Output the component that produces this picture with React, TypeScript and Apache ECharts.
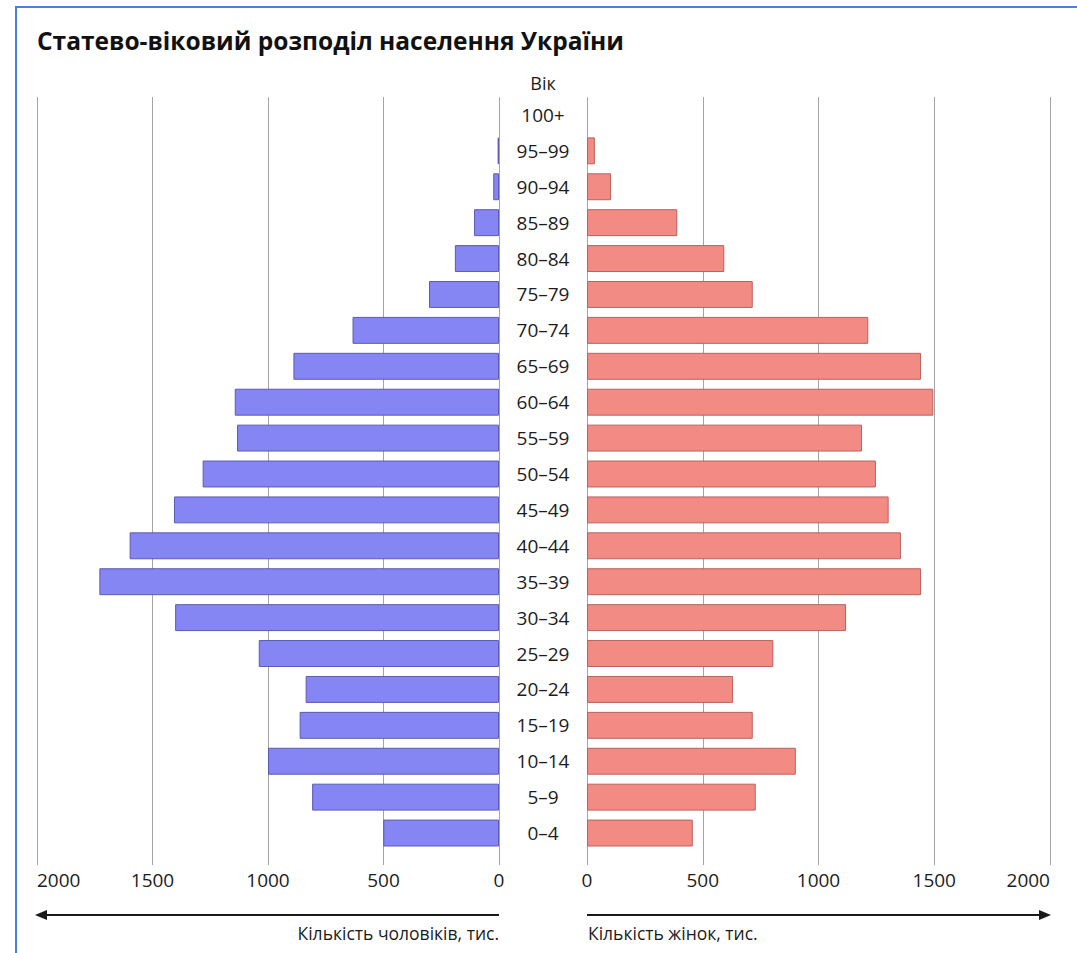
import React, { useEffect, useRef } from 'react';
import * as echarts from 'echarts';

const ageGroups = ['0–4', '5–9', '10–14', '15–19', '20–24', '25–29', '30–34', '35–39', '40–44', '45–49', '50–54', '55–59', '60–64', '65–69', '70–74', '75–79', '80–84', '85–89', '90–94', '95–99', '100+'];
const men = [501, 809, 1000, 863, 837, 1040, 1402, 1730, 1599, 1407, 1283, 1134, 1144, 890, 634, 303, 191, 108, 25, 6, 0];
const women = [457, 729, 902, 716, 631, 805, 1119, 1443, 1356, 1303, 1248, 1188, 1496, 1443, 1215, 716, 593, 390, 104, 34, 0];

const titleText = 'Статево-віковий розподіл населення України';
const ageLabel = 'Вік';
const menLabel = 'Кількість чоловіків, тис.';
const womenLabel = 'Кількість жінок, тис.';

const FONT = '"Open Sans", "Noto Sans", sans-serif';
const TEXT = '#1c1c1c';
const GRID = '#a3a3a3';

export default function App() {
  const ref = useRef<HTMLDivElement>(null);
  useEffect(() => {
    if (!ref.current) return;
    const chart = echarts.init(ref.current, undefined, { renderer: 'svg' });
    const xAxisBase = (idx: number, inverse: boolean) => ({
      gridIndex: idx,
      type: 'value',
      min: 0,
      max: 2000,
      interval: 500,
      inverse,
      axisLine: { show: false },
      axisTick: { show: true, length: 14, lineStyle: { color: GRID, width: 1 } },
      splitLine: { show: true, lineStyle: { color: GRID, width: 1 } },
      axisLabel: {
        color: TEXT,
        fontSize: 19,
        fontFamily: FONT,
        margin: 19,
        formatter: (v: number) => String(v),
        alignMaxLabel: inverse ? 'left' : 'right',
      },
    });
    const toData = (arr: number[]) =>
      arr.map((v) => (v === 0 ? { value: v, itemStyle: { borderWidth: 0 } } : v));
    chart.setOption({
      animation: false,
      textStyle: { fontFamily: FONT },
      grid: [
        { left: 37, width: 462, top: 97, height: 754 },
        { left: 587, width: 463, top: 97, height: 754 },
      ],
      xAxis: [xAxisBase(0, true), xAxisBase(1, false)],
      yAxis: [
        { gridIndex: 0, type: 'category', data: ageGroups, show: false },
        {
          gridIndex: 1,
          type: 'category',
          data: ageGroups,
          position: 'left',
          axisLine: { show: false },
          axisTick: { show: false },
          axisLabel: { align: 'center', margin: 44, fontSize: 19, color: TEXT, fontFamily: FONT },
        },
      ],
      series: [
        {
          name: 'Чоловіки',
          type: 'bar',
          xAxisIndex: 0,
          yAxisIndex: 0,
          data: toData(men),
          barCategoryGap: '25%',
          itemStyle: { color: '#8585f3', borderColor: '#5b5bb5', borderWidth: 1 },
        },
        {
          name: 'Жінки',
          type: 'bar',
          xAxisIndex: 1,
          yAxisIndex: 1,
          data: toData(women),
          barCategoryGap: '25%',
          itemStyle: { color: '#f28b84', borderColor: '#b8625e', borderWidth: 1 },
        },
      ],
      graphic: [
        {
          type: 'rect',
          shape: { x: 16, y: 7, width: 1100, height: 1000 },
          style: { fill: 'none', stroke: '#4d7fd6', lineWidth: 2 },
          silent: true,
        },
        {
          type: 'text',
          x: 37,
          y: 40,
          style: { text: titleText, fill: '#111', font: `bold 24.5px ${FONT}`, textAlign: 'left', textVerticalAlign: 'middle' },
        },
        {
          type: 'text',
          x: 543,
          y: 83,
          style: { text: ageLabel, fill: TEXT, font: `18px ${FONT}`, textAlign: 'center', textVerticalAlign: 'middle' },
        },
        {
          type: 'line',
          shape: { x1: 499, y1: 915, x2: 44, y2: 915 },
          style: { stroke: '#1a1a1a', lineWidth: 2 },
        },
        {
          type: 'polygon',
          shape: { points: [[35, 915], [47, 910], [47, 920]] },
          style: { fill: '#1a1a1a' },
        },
        {
          type: 'line',
          shape: { x1: 587, y1: 915, x2: 1042, y2: 915 },
          style: { stroke: '#1a1a1a', lineWidth: 2 },
        },
        {
          type: 'polygon',
          shape: { points: [[1051, 915], [1039, 910], [1039, 920]] },
          style: { fill: '#1a1a1a' },
        },
        {
          type: 'text',
          x: 499,
          y: 933,
          style: { text: menLabel, fill: TEXT, font: `17.5px ${FONT}`, textAlign: 'right', textVerticalAlign: 'middle' },
        },
        {
          type: 'text',
          x: 588,
          y: 933,
          style: { text: womenLabel, fill: TEXT, font: `17.5px ${FONT}`, textAlign: 'left', textVerticalAlign: 'middle' },
        },
      ],
    });
    return () => chart.dispose();
  }, []);
  return (
    <div
      ref={ref}
      style={{ position: 'absolute', left: 0, top: 0, width: 1077, height: 953, background: '#fff' }}
    />
  );
}
